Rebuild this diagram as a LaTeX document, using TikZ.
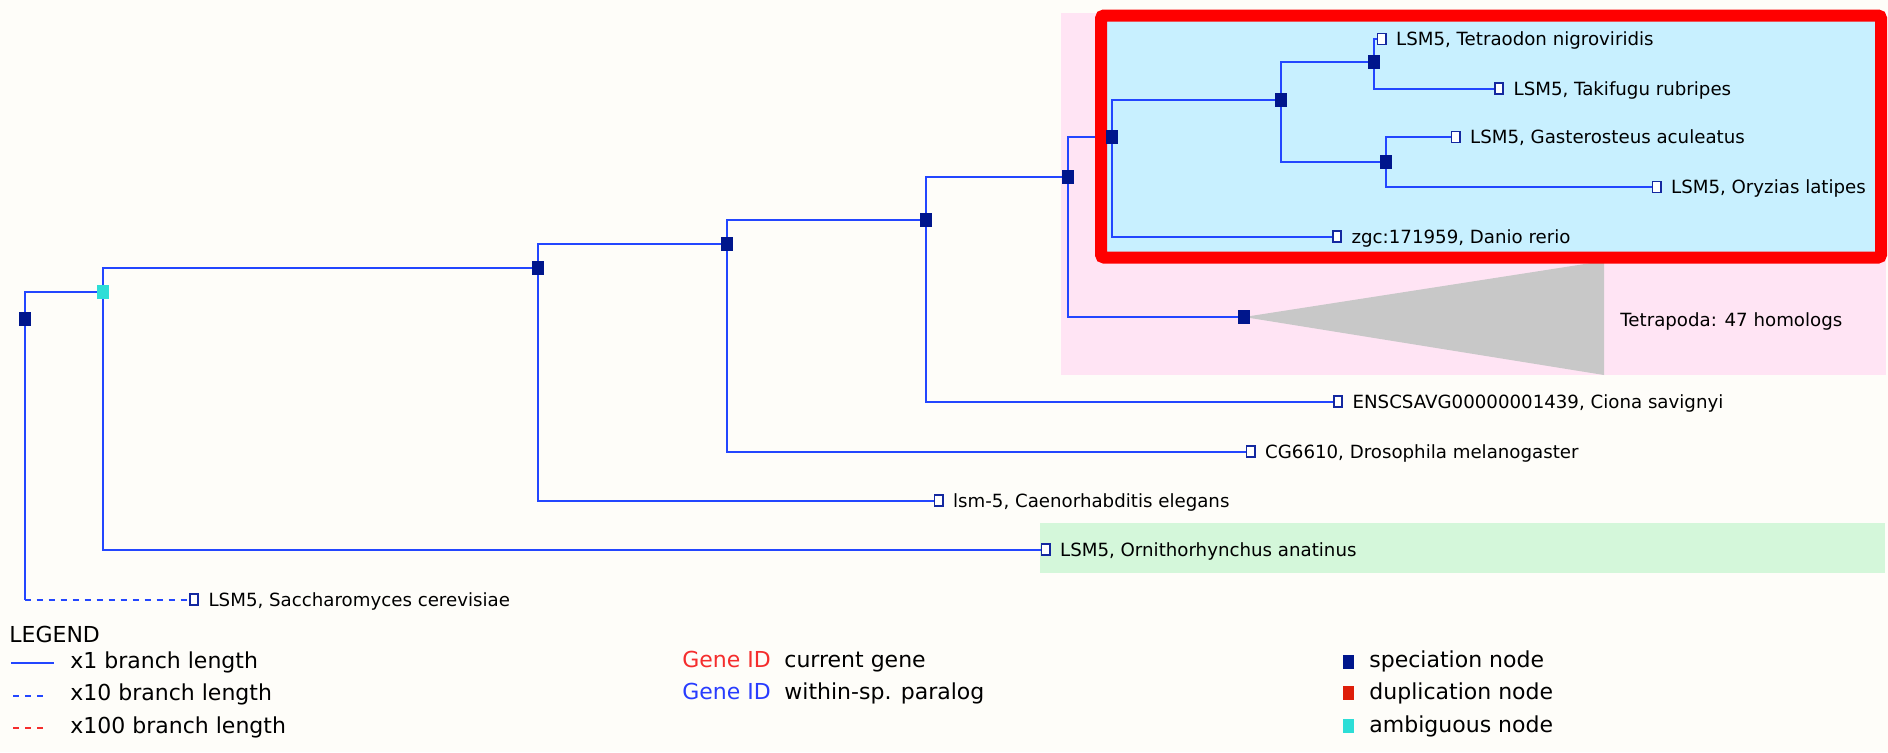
\documentclass[tikz,border=0pt]{standalone}
\usepackage{fontspec}
\setmainfont{DejaVu Sans}
\usetikzlibrary{calc}
\pgfdeclarelayer{bg}
\pgfdeclarelayer{lines}
\pgfdeclarelayer{frame}
\pgfsetlayers{bg,lines,frame,main}
\definecolor{bgcol}{RGB}{254,253,249}
\definecolor{treeblue}{RGB}{35,70,255}
\definecolor{specblue}{RGB}{0,22,140}
\definecolor{leafblue}{RGB}{20,40,160}
\definecolor{ambcyan}{RGB}{45,222,215}
\definecolor{dupred}{RGB}{222,30,10}
\definecolor{pinkbox}{RGB}{255,228,244}
\definecolor{cyanbox}{RGB}{200,240,255}
\definecolor{greenbox}{RGB}{212,247,218}
\definecolor{greytri}{RGB}{200,200,200}
\definecolor{framered}{RGB}{255,0,0}
\definecolor{idred}{RGB}{245,45,45}
\definecolor{idblue}{RGB}{40,60,255}
\tikzset{
  branch/.style={draw=treeblue, line width=1pt},
  dashbranch/.style={branch, dash pattern=on 3pt off 3pt},
  specnode/.style={rectangle, fill=specblue, minimum width=6pt, minimum height=7pt, inner sep=0pt},
  ambnode/.style={specnode, fill=ambcyan},
  dupnode/.style={specnode, fill=dupred},
  leafnode/.style={rectangle, draw=leafblue, fill=white, line width=0.8pt, minimum width=4.2pt, minimum height=5.4pt, inner sep=0pt},
  lab/.style={anchor=base west, inner sep=0pt, font=\fontsize{9.1pt}{11pt}\selectfont},
  leglab/.style={anchor=base west, inner sep=0pt, font=\fontsize{11pt}{13pt}\selectfont},
  legsq/.style={rectangle, minimum width=5.5pt, minimum height=7pt, inner sep=0pt}
}
\begin{document}
\begin{tikzpicture}[x=0.5pt, y=-0.5pt]
\useasboundingbox (0,0) rectangle (1888,752);
\begin{pgfonlayer}{bg}
  \fill[bgcol] (0,0) rectangle (1888,752);
  \fill[pinkbox] (1061,13) rectangle (1886,375);
  \fill[greenbox] (1040,523) rectangle (1885,573);
  \fill[cyanbox] (1101,15.5) rectangle (1881,257.5);
\end{pgfonlayer}
\begin{pgfonlayer}{frame}
  \draw[framered, line width=6pt, rounded corners=1.5pt] (1101,15.5) rectangle (1881,257.5);
\end{pgfonlayer}

% internal nodes
\node[specnode] (R) at (24.5,319) {};
\node[ambnode]  (Am) at (102.5,292) {};
\node[specnode] (A) at (538,268) {};
\node[specnode] (B) at (727,244) {};
\node[specnode] (C) at (926,219.5) {};
\node[specnode] (D) at (1068,177) {};
\node[specnode] (E) at (1112,137) {};
\node[specnode] (F) at (1280.5,100) {};
\node[specnode] (G) at (1374,62) {};
\node[specnode] (H) at (1386,162) {};
\node[specnode] (T) at (1244,317) {};

% leaves
\node[leafnode] (lTet) at (1381.5,39) {};
\node[leafnode] (lTak) at (1499,88.5) {};
\node[leafnode] (lGas) at (1455.5,137) {};
\node[leafnode] (lOry) at (1656.5,187) {};
\node[leafnode] (lDan) at (1337,236.5) {};
\node[leafnode] (lCio) at (1338,401.5) {};
\node[leafnode] (lDro) at (1250.5,451.5) {};
\node[leafnode] (lEle) at (938.5,500.5) {};
\node[leafnode] (lOrn) at (1045.5,549.5) {};
\node[leafnode] (lSac) at (194,599.5) {};

% labels
\node[lab] (tTet) at ([xshift=7.1pt,yshift=-3.3pt]lTet.center) {LSM5, Tetraodon nigroviridis};
\node[lab] (tTak) at ([xshift=7.1pt,yshift=-3.3pt]lTak.center) {LSM5, Takifugu rubripes};
\node[lab] (tGas) at ([xshift=7.1pt,yshift=-3.3pt]lGas.center) {LSM5, Gasterosteus aculeatus};
\node[lab] (tOry) at ([xshift=7.1pt,yshift=-3.3pt]lOry.center) {LSM5, Oryzias latipes};
\node[lab] (tDan) at ([xshift=7.1pt,yshift=-3.3pt]lDan.center) {zgc:171959, Danio rerio};
\node[lab] (tCio) at ([xshift=7.1pt,yshift=-3.3pt]lCio.center) {ENSCSAVG00000001439, Ciona savignyi};
\node[lab] (tDro) at ([xshift=7.1pt,yshift=-3.3pt]lDro.center) {CG6610, Drosophila melanogaster};
\node[lab] (tEle) at ([xshift=7.1pt,yshift=-3.3pt]lEle.center) {lsm-5, Caenorhabditis elegans};
\node[lab] (tOrn) at ([xshift=7.1pt,yshift=-3.3pt]lOrn.center) {LSM5, Ornithorhynchus anatinus};
\node[lab] (tSac) at ([xshift=7.1pt,yshift=-3.3pt]lSac.center) {LSM5, Saccharomyces cerevisiae};
\node[lab] (tTetra) at (1620,326) {Tetrapoda: 47 homologs};

\begin{pgfonlayer}{bg}
  \fill[greytri] (T.center) -- (1604,261) -- (1604,375) -- cycle;
\end{pgfonlayer}

\begin{pgfonlayer}{lines}
  \draw[branch] (R.center) |- (Am.center);
  \draw[branch] (R.center) -- (R.center |- lSac.center);
  \draw[dashbranch] (R.center |- lSac.center) -- (lSac.center);
  \draw[branch] (Am.center) |- (A.center);
  \draw[branch] (Am.center) |- (lOrn.center);
  \draw[branch] (A.center) |- (B.center);
  \draw[branch] (A.center) |- (lEle.center);
  \draw[branch] (B.center) |- (C.center);
  \draw[branch] (B.center) |- (lDro.center);
  \draw[branch] (C.center) |- (D.center);
  \draw[branch] (C.center) |- (lCio.center);
  \draw[branch] (D.center) |- (E.center);
  \draw[branch] (D.center) |- (T.center);
  \draw[branch] (E.center) |- (F.center);
  \draw[branch] (E.center) |- (lDan.center);
  \draw[branch] (F.center) |- (G.center);
  \draw[branch] (F.center) |- (H.center);
  \draw[branch] (G.center) |- (lTet.center);
  \draw[branch] (G.center) |- (lTak.center);
  \draw[branch] (H.center) |- (lGas.center);
  \draw[branch] (H.center) |- (lOry.center);
\end{pgfonlayer}

% legend
\node[leglab] (legtitle) at (9,642) {LEGEND};
\coordinate (s1a) at (11,662.7);
\coordinate (s1b) at (54,662.7);
\coordinate (s2a) at (13,695.7);
\coordinate (s2b) at (49,695.7);
\coordinate (s3a) at (13,728.3);
\coordinate (s3b) at (49,728.3);
\draw[branch] (s1a) -- (s1b);
\draw[dashbranch] (s2a) -- (s2b);
\draw[dashbranch, draw=idred] (s3a) -- (s3b);
\node[leglab] (l1) at (70,668) {x1 branch length};
\node[leglab] (l2) at (70,700.5) {x10 branch length};
\node[leglab] (l3) at (70,733) {x100 branch length};

\node[leglab, text=idred] (g1) at (682,667) {Gene ID};
\node[leglab, text=idblue] (g2) at (682,699.5) {Gene ID};
\node[leglab] (g1t) at (784,667) {current gene};
\node[leglab] (g2t) at (784,699.5) {within-sp. paralog};

\node[legsq, fill=specblue] (q1) at (1348.5,662) {};
\node[legsq, fill=dupred] (q2) at (1348.5,693) {};
\node[legsq, fill=ambcyan] (q3) at (1348.5,725.5) {};
\node[leglab] (q1t) at (1369,667) {speciation node};
\node[leglab] (q2t) at (1369,699.5) {duplication node};
\node[leglab] (q3t) at (1369,732) {ambiguous node};
\end{tikzpicture}
\end{document}
